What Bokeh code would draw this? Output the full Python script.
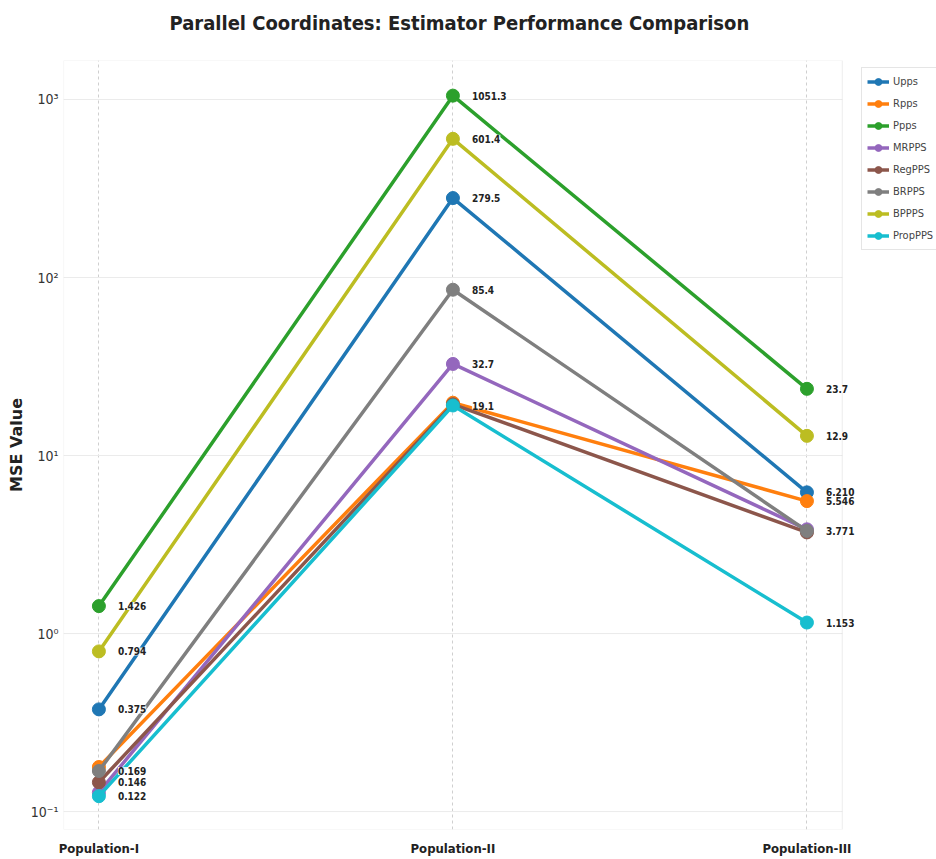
from bokeh.plotting import figure
from bokeh.models import FixedTicker, Legend, LegendItem, ColumnDataSource, Range1d, Label, BoxAnnotation, Title
from bokeh.embed import file_html
from bokeh.resources import INLINE

categories = ["Population-I", "Population-II", "Population-III"]
series_names = ["Upps", "Rpps", "Ppps", "MRPPS", "RegPPS", "BRPPS", "BPPPS", "PropPPS"]
upps = [0.375, 279.5, 6.210]
rpps = [0.178, 19.8, 5.546]
ppps = [1.426, 1051.3, 23.7]
mrpps = [0.128, 32.7, 3.85]
regpps = [0.146, 19.4, 3.70]
brpps = [0.169, 85.4, 3.771]
bppps = [0.794, 601.4, 12.9]
proppps = [0.122, 19.1, 1.153]
series_values = [upps, rpps, ppps, mrpps, regpps, brpps, bppps, proppps]
colors = ["#1f77b4", "#ff7f0e", "#2ca02c", "#9467bd", "#8c564b", "#7f7f7f", "#bcbd22", "#17becf"]
# which series get a value label at each population
labelled = [
    ["Ppps", "BPPPS", "Upps", "BRPPS", "RegPPS", "PropPPS"],
    ["Ppps", "BPPPS", "Upps", "BRPPS", "MRPPS", "PropPPS"],
    ["Ppps", "BPPPS", "Upps", "Rpps", "BRPPS", "PropPPS"],
]
y_ticks = [0.1, 1, 10, 100, 1000]
y_tick_labels = ["10⁻¹", "10⁰", "10¹", "10²", "10³"]
title_text = "Parallel Coordinates: Estimator Performance Comparison"

COND = "'DejaVu Sans Condensed', 'Liberation Sans Narrow', 'Roboto Condensed', Roboto, sans-serif"

xs = list(range(len(categories)))
X_MIN, X_MAX = -0.1, 2.1          # visible axes box
X_EXT = 2.366                     # canvas extends right for labels + legend
Y_MIN, Y_MAX = 0.0793, 1656

p = figure(frame_width=873, frame_height=769, output_backend="svg", toolbar_location=None,
           title=None,
           y_axis_type="log", x_range=Range1d(X_MIN, X_EXT), y_range=Range1d(Y_MIN, Y_MAX),
           min_border_left=63, min_border_right=0, min_border_top=60, min_border_bottom=30)

# spacer panel next to the frame, then the real title above it
p.add_layout(Title(text=" ", text_font_size="1px", standoff=12), "above")
p.add_layout(Title(text=title_text, align="left", offset=106, vertical_align="middle",
                   text_font=COND, text_font_size="20px", text_font_style="bold",
                   text_color="#222222", standoff=19), "above")

p.outline_line_color = None
p.background_fill_color = "white"

p.xaxis.ticker = FixedTicker(ticks=xs)
p.xaxis.major_label_overrides = {i: c for i, c in enumerate(categories)}
p.xaxis.major_label_text_font = COND
p.xaxis.major_label_text_font_style = "bold"
p.xaxis.major_label_text_font_size = "13px"
p.xaxis.major_label_text_color = "#222222"
p.yaxis.ticker = FixedTicker(ticks=y_ticks, minor_ticks=[])
p.yaxis.major_label_overrides = {t: l for t, l in zip(y_ticks, y_tick_labels)}
p.yaxis.major_label_text_font = COND
p.yaxis.major_label_text_font_size = "14px"
p.yaxis.major_label_text_color = "#333333"
for ax in (p.xaxis, p.yaxis):
    ax.axis_line_color = None
    ax.major_tick_line_color = None
    ax.minor_tick_line_color = None
    ax.major_tick_out = 0
    ax.major_tick_in = 0
    ax.minor_tick_out = 0
p.xaxis.major_label_standoff = 11
p.yaxis.major_label_standoff = 5
p.yaxis.axis_label = "MSE Value"
p.yaxis.axis_label_text_font = "DejaVu Sans"
p.yaxis.axis_label_text_font_style = "bold"
p.yaxis.axis_label_text_font_size = "16px"
p.yaxis.axis_label_text_color = "#222222"
p.yaxis.axis_label_standoff = 2

# grid: horizontal lines only across the axes box, dashed verticals at categories
p.ygrid.visible = False
p.segment(x0=[X_MIN] * len(y_ticks), x1=[X_MAX] * len(y_ticks), y0=y_ticks, y1=y_ticks,
          line_color="#ebebeb", line_width=1)
p.xgrid.grid_line_color = "#cfcfcf"
p.xgrid.grid_line_dash = "3 3"
p.xgrid.grid_line_width = 1
p.add_layout(BoxAnnotation(left=X_MIN, right=X_MAX, bottom=Y_MIN, top=Y_MAX,
                           fill_alpha=0, line_color="#cccccc", line_width=1.2))

items = []
for name, vals, col in zip(series_names, series_values, colors):
    src = ColumnDataSource(dict(x=xs, y=vals))
    r1 = p.line("x", "y", source=src, line_color=col, line_width=3.5)
    r2 = p.scatter("x", "y", source=src, size=13, fill_color=col, line_color=col)
    items.append(LegendItem(label=name, renderers=[r1, r2]))

for ci, names in enumerate(labelled):
    for name in names:
        v = series_values[series_names.index(name)][ci]
        txt = f"{v:.1f}" if v >= 10 else f"{v:.3f}"
        p.add_layout(Label(x=ci, y=v, text=txt, x_offset=19, text_baseline="middle",
                           text_font=COND, text_font_style="bold",
                           text_font_size="10px", text_color="#222222",
                           background_fill_color="white", background_fill_alpha=0.85))

legend = Legend(items=items, location=(798, 579))
legend.label_text_font = COND
legend.label_text_font_size = "11px"
legend.label_height = 17
legend.label_standoff = 4
legend.glyph_width = 22
legend.glyph_height = 17
legend.spacing = 5
legend.padding = 5
legend.margin = 0
legend.border_line_color = "#cccccc"
legend.background_fill_color = "white"
p.add_layout(legend, "center")

open("out.html", "w").write(file_html(p, INLINE))
